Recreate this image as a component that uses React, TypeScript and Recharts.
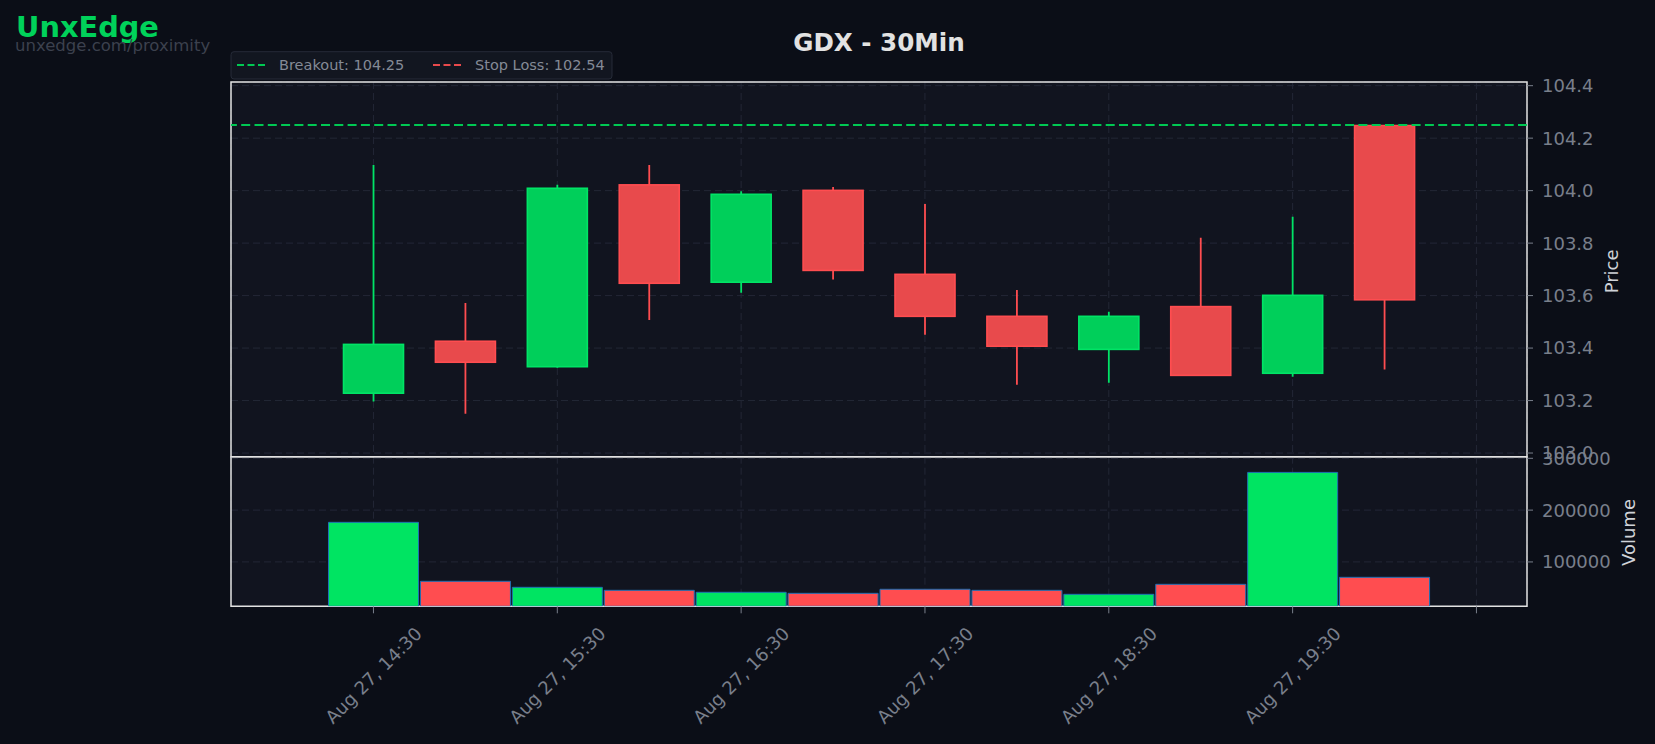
import React from "react";
import {
  ComposedChart,
  Bar,
  XAxis,
  YAxis,
  CartesianGrid,
  ReferenceLine,
  ReferenceArea,
  Cell,
} from "recharts";

// ---------- data ----------
const times = ["14:30", "15:00", "15:30", "16:00", "16:30", "17:00", "17:30", "18:00", "18:30", "19:00", "19:30", "20:00"];
const opens = [103.228, 103.426, 103.329, 104.022, 103.651, 104.001, 103.681, 103.521, 103.395, 103.558, 103.304, 104.248];
const closes = [103.414, 103.346, 104.009, 103.647, 103.986, 103.696, 103.521, 103.407, 103.521, 103.296, 103.601, 103.584];
const highs = [104.098, 103.572, 104.022, 104.098, 103.998, 104.014, 103.949, 103.621, 103.538, 103.82, 103.9, 104.248];
const lows = [103.196, 103.15, 103.325, 103.507, 103.611, 103.661, 103.451, 103.26, 103.268, 103.296, 103.291, 103.318];
const volumes = [176400, 62600, 51000, 45200, 41400, 39400, 47200, 45200, 37500, 56800, 272800, 70300];

const xTicks = [0, 2, 4, 6, 8, 10, 12];
const xTickLabels = ["Aug 27, 14:30", "Aug 27, 15:30", "Aug 27, 16:30", "Aug 27, 17:30", "Aug 27, 18:30", "Aug 27, 19:30", ""];
const priceTicks = [103.0, 103.2, 103.4, 103.6, 103.8, 104.0, 104.2, 104.4];
const volumeTicks = [100000, 200000, 300000];
const breakout = 104.25;
const stopLoss = 102.54;

const xDomain: [number, number] = [-1.55, 12.55];
const priceDomain: [number, number] = [102.986, 104.414];
const volumeDomain: [number, number] = [14370, 303086];

const data = times.map((t, i) => ({
  i,
  time: t,
  open: opens[i],
  close: closes[i],
  high: highs[i],
  low: lows[i],
  volume: volumes[i],
  up: closes[i] >= opens[i],
}));

// ---------- styles ----------
const FONT = "DejaVu Sans";
const PAGE_BG = "#0b0e17";
const PLOT_BG = "#11141f";
const GRID = "#232736";
const SPINE = "#e2e2e2";
const TICK = "#797f8b";
const GREEN_BODY = "#00cf5a";
const GREEN_EDGE = "#00e466";
const RED_BODY = "#e84a4c";
const RED_EDGE = "#ff4d50";
const VOL_GREEN = "#00e462";
const VOL_RED = "#ff4d50";
const BODY_W = 60;

const CandleShape = (props: any) => {
  const { x, y, width, height, payload } = props;
  if (x == null || y == null || !payload) return null;
  const cx = x + width / 2;
  const top = Math.min(y, y + height);
  const bot = Math.max(y, y + height);
  const { open, close, high, low, up } = payload;
  const span = high - low || 1;
  const py = (p: number) => top + ((high - p) / span) * (bot - top);
  const bTop = py(Math.max(open, close));
  const bBot = py(Math.min(open, close));
  const edge = up ? GREEN_EDGE : RED_EDGE;
  const body = up ? GREEN_BODY : RED_BODY;
  return (
    <g>
      <line x1={cx} x2={cx} y1={top} y2={bot} stroke={edge} strokeWidth={1.8} />
      <rect
        x={cx - BODY_W / 2}
        y={bTop}
        width={BODY_W}
        height={Math.max(bBot - bTop, 1)}
        fill={body}
        stroke={edge}
        strokeWidth={1.6}
      />
    </g>
  );
};

const XTick = (props: any) => {
  const { x, y, payload } = props;
  const idx = xTicks.indexOf(payload.value);
  const label = idx >= 0 ? xTickLabels[idx] : "";
  if (!label) return null;
  const cy = y + 60;
  return (
    <text
      x={x}
      y={cy}
      textAnchor="middle"
      dominantBaseline="central"
      transform={`rotate(-45 ${x} ${cy})`}
      fill={TICK}
      fontSize={18}
      fontFamily={FONT}
    >
      {label}
    </text>
  );
};

const EmptyTick = () => <g />;

export default function App() {
  const W = 1655;
  return (
    <div
      style={{
        position: "relative",
        width: W,
        height: 744,
        background: PAGE_BG,
        fontFamily: FONT,
        overflow: "hidden",
      }}
    >
      <style>{`body{margin:0;background:${PAGE_BG};}`}</style>

      {/* Volume panel (drawn first, underneath) */}
      <div style={{ position: "absolute", left: 0, top: 0 }}>
        <ComposedChart
          width={W}
          height={744}
          data={data}
          margin={{ top: 456.7, left: 231, right: 28, bottom: 0 }}
        >
          <CartesianGrid
            yAxisId="v"
            stroke={GRID}
            strokeDasharray="7 4"
            fill={PLOT_BG}
            fillOpacity={1}
          />
          <XAxis
            type="number"
            dataKey="i"
            domain={xDomain}
            allowDataOverflow
            ticks={xTicks}
            tick={<XTick />}
            tickLine={{ stroke: TICK }}
            tickSize={7}
            axisLine={false}
            height={137.7}
            interval={0}
          />
          <YAxis
            yAxisId="v"
            orientation="right"
            type="number"
            domain={volumeDomain}
            allowDataOverflow
            ticks={volumeTicks}
            interval={0}
            tickFormatter={(v: number) => String(v)}
            tick={{ fill: TICK, fontSize: 18, fontFamily: FONT }}
            tickLine={{ stroke: TICK }}
            tickSize={6}
            tickMargin={9}
            axisLine={false}
            width={100}
            label={{
              value: "Volume",
              angle: -90,
              position: "center",
              dx: 52,
              dy: 1,
              fill: "#cfd2d8",
              fontSize: 18,
              fontFamily: FONT,
            }}
          />
          <Bar
            yAxisId="v"
            dataKey="volume"
            barSize={90}
            stroke="#1f6fb4"
            strokeWidth={1}
            isAnimationActive={false}
          >
            {data.map((d) => (
              <Cell key={d.i} fill={d.up ? VOL_GREEN : VOL_RED} />
            ))}
          </Bar>
          <ReferenceArea
            yAxisId="v"
            x1={xDomain[0]}
            x2={xDomain[1]}
            y1={volumeDomain[0]}
            y2={volumeDomain[1]}
            fill="none"
            fillOpacity={0}
            stroke={SPINE}
            strokeWidth={1.5}
            ifOverflow="visible"
          />
        </ComposedChart>
      </div>

      {/* Price panel */}
      <div style={{ position: "absolute", left: 0, top: 0 }}>
        <ComposedChart
          width={W}
          height={475}
          data={data}
          margin={{ top: 82, left: 231, right: 28, bottom: 18.3 }}
        >
          <CartesianGrid
            yAxisId="p"
            stroke={GRID}
            strokeDasharray="7 4"
            fill={PLOT_BG}
            fillOpacity={1}
          />
          <XAxis
            type="number"
            dataKey="i"
            domain={xDomain}
            allowDataOverflow
            ticks={xTicks}
            interval={0}
            tick={<EmptyTick />}
            tickLine={false}
            axisLine={false}
            height={0}
          />
          <YAxis
            yAxisId="p"
            orientation="right"
            type="number"
            domain={priceDomain}
            allowDataOverflow
            ticks={priceTicks}
            interval={0}
            tickFormatter={(v: number) => v.toFixed(1)}
            tick={{ fill: TICK, fontSize: 18, fontFamily: FONT }}
            tickLine={{ stroke: TICK }}
            tickSize={6}
            tickMargin={9}
            axisLine={false}
            width={100}
            label={{
              value: "Price",
              angle: -90,
              position: "center",
              dx: 35,
              dy: 2,
              fill: "#cfd2d8",
              fontSize: 18,
              fontFamily: FONT,
            }}
          />
          <Bar
            yAxisId="p"
            dataKey={(d: any) => [d.low, d.high]}
            barSize={BODY_W}
            shape={<CandleShape />}
            isAnimationActive={false}
          />
          <ReferenceLine
            yAxisId="p"
            y={breakout}
            stroke="#00c853"
            strokeWidth={2}
            strokeDasharray="9 4.3"
          />
          <ReferenceLine
            yAxisId="p"
            y={stopLoss}
            stroke="#e84a4c"
            strokeWidth={2}
            strokeDasharray="9 4.3"
          />
          <ReferenceArea
            yAxisId="p"
            x1={xDomain[0]}
            x2={xDomain[1]}
            y1={priceDomain[0]}
            y2={priceDomain[1]}
            fill="none"
            fillOpacity={0}
            stroke={SPINE}
            strokeWidth={1.5}
            ifOverflow="visible"
          />
        </ComposedChart>
      </div>

      {/* Title, branding, legend */}
      <svg
        width={W}
        height={100}
        style={{ position: "absolute", left: 0, top: 0, pointerEvents: "none" }}
      >
        <text x={16} y={36.7} fill="#00d25a" fontSize={28.8} fontWeight="bold" fontFamily={FONT}>
          UnxEdge
        </text>
        <text x={15} y={50.5} fill="#3c414e" fontSize={16.5} fontFamily={FONT}>
          unxedge.com/proximity
        </text>
        <text x={879} y={50.7} textAnchor="middle" fill="#e2e2e2" fontSize={24.6} fontWeight="bold" fontFamily={FONT}>
          GDX - 30Min
        </text>
        <rect x={231} y={51.7} width={381} height={27.3} rx={3} fill="#121620" stroke="#262b38" strokeWidth={1} />
        <line x1={237} x2={265} y1={65} y2={65} stroke="#00c853" strokeWidth={2} strokeDasharray="7 3.5" />
        <text x={279} y={70} fill="#848a96" fontSize={14.5} fontFamily={FONT}>
          {`Breakout: ${breakout.toFixed(2)}`}
        </text>
        <line x1={433} x2={463} y1={65} y2={65} stroke="#e84a4c" strokeWidth={2} strokeDasharray="7 3.5" />
        <text x={475} y={70} fill="#848a96" fontSize={14.5} fontFamily={FONT}>
          {`Stop Loss: ${stopLoss.toFixed(2)}`}
        </text>
      </svg>
    </div>
  );
}
